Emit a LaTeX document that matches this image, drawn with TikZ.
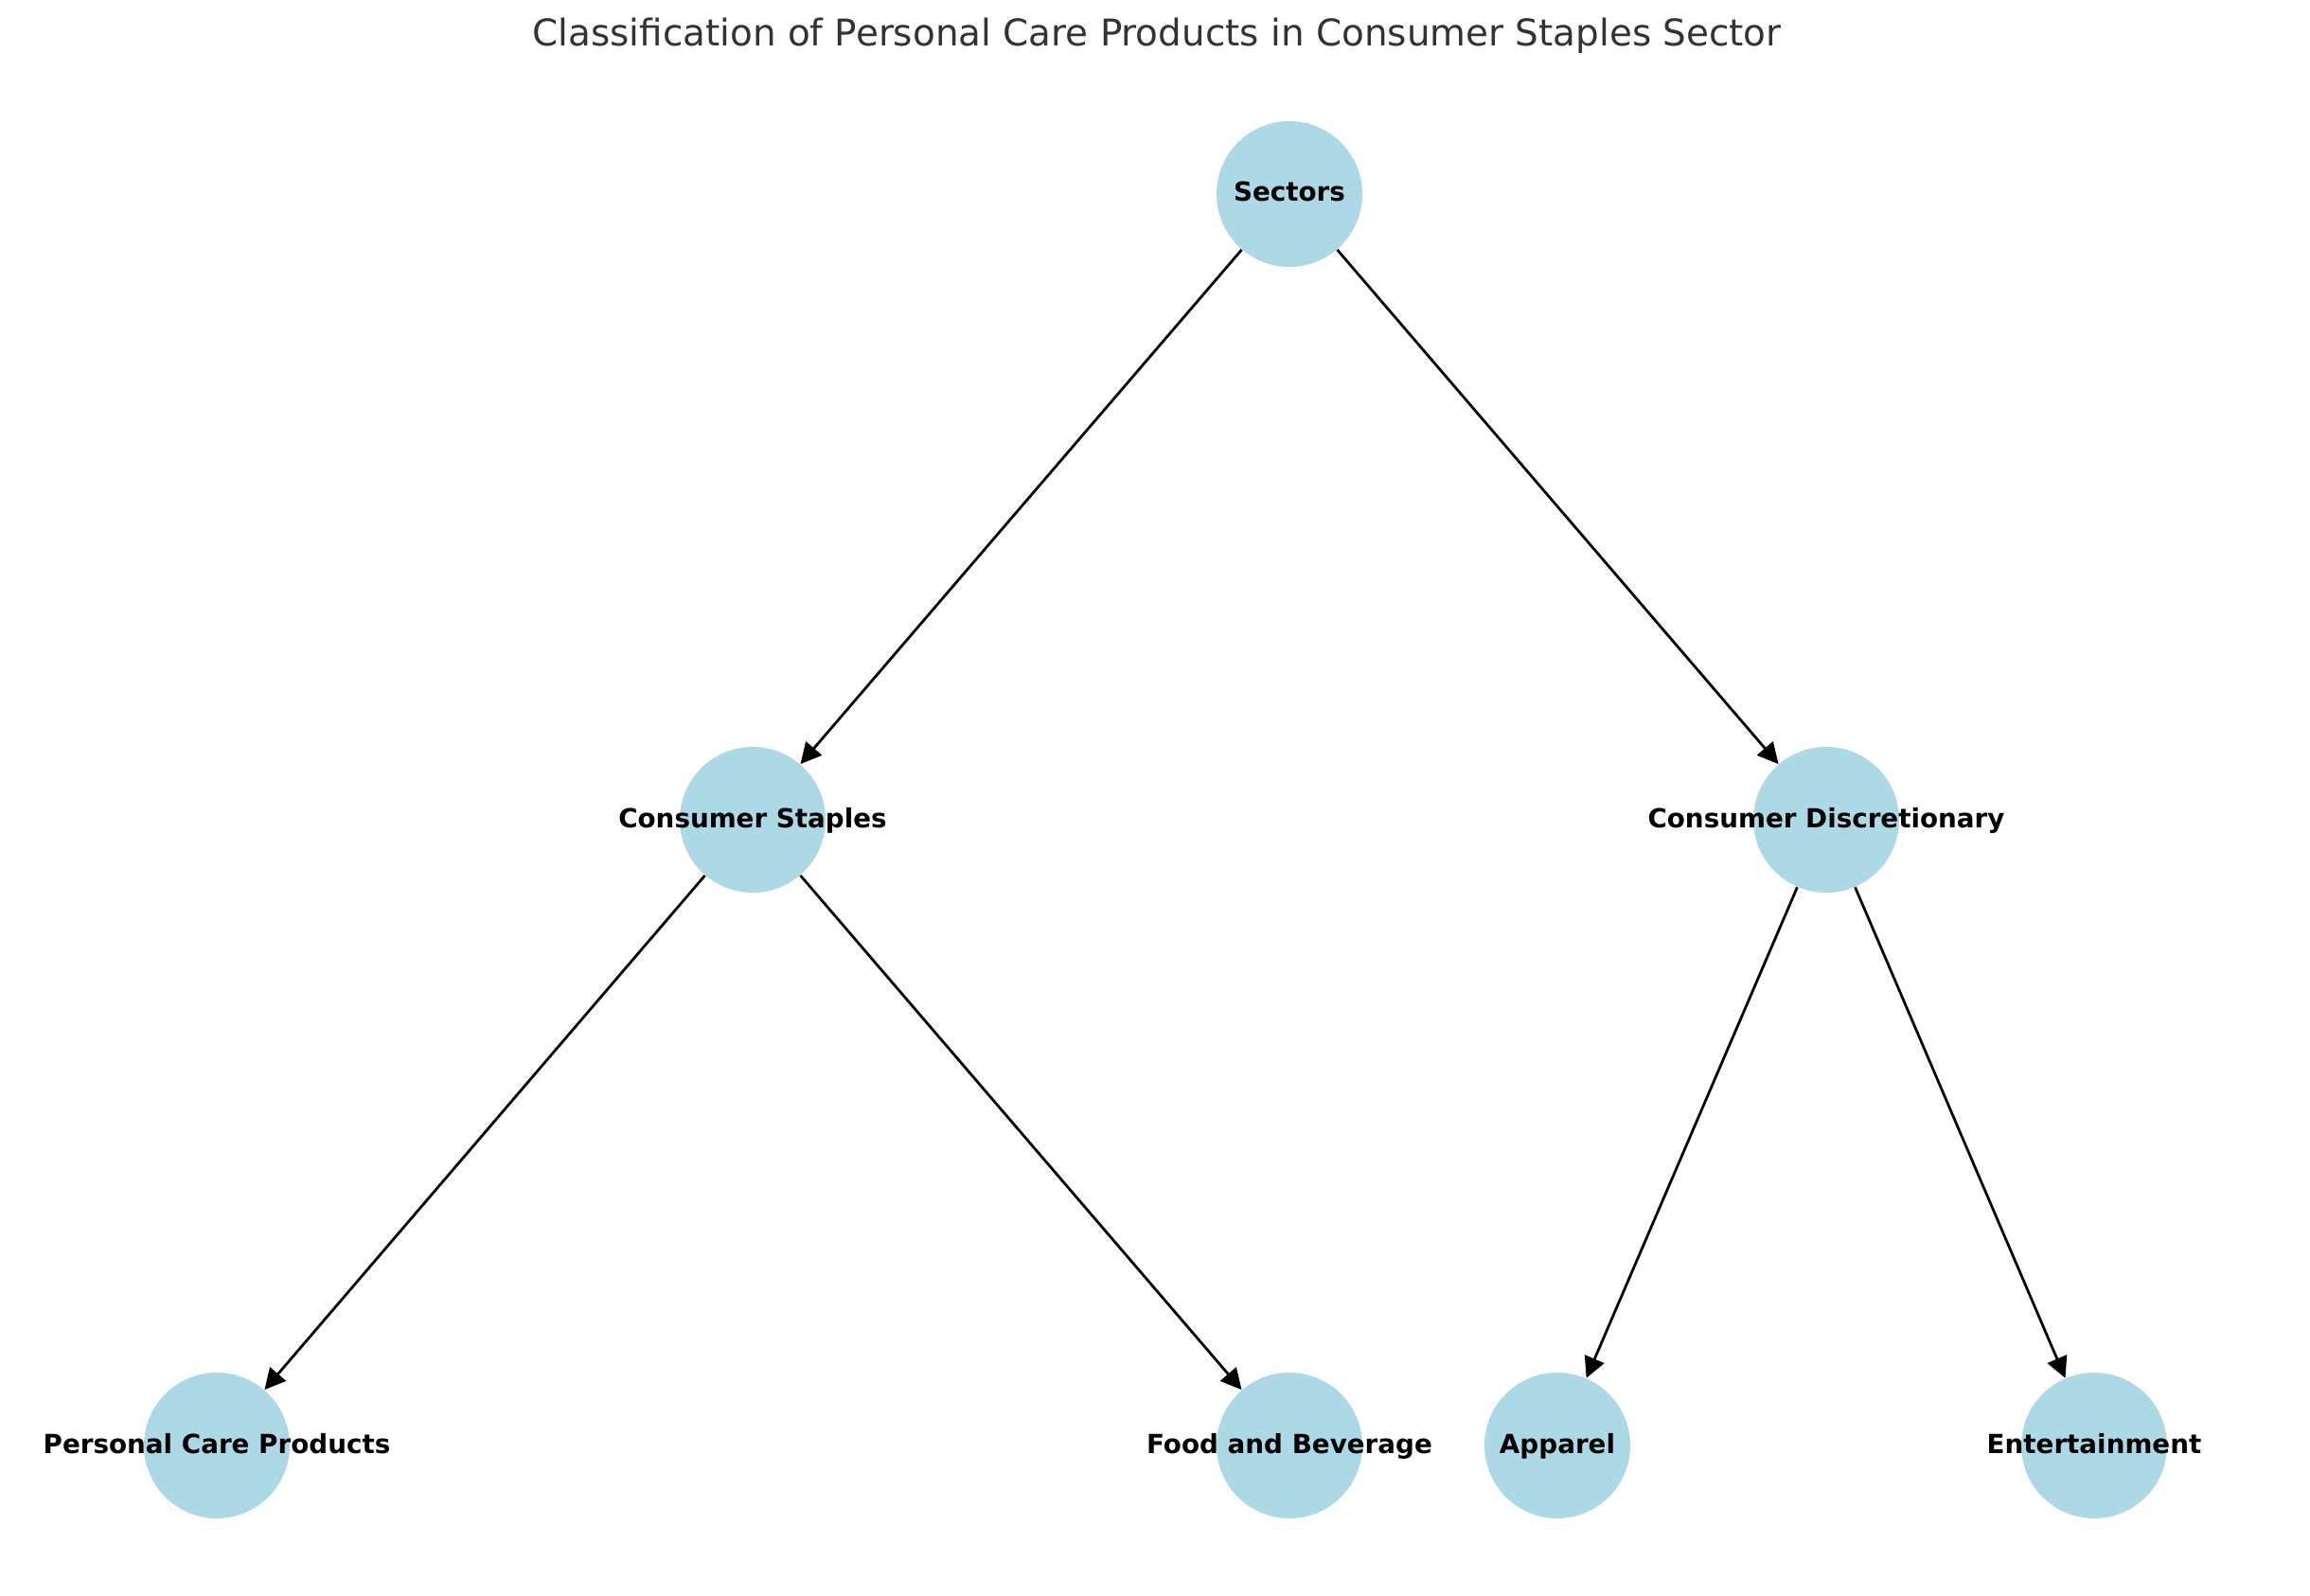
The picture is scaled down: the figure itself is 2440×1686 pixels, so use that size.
\documentclass[tikz,border=0pt]{standalone}
\usepackage{fontspec}
\setmainfont{DejaVu Sans}
\usetikzlibrary{arrows.meta}
\definecolor{nodeblue}{HTML}{ADD8E6}
\definecolor{titlegray}{HTML}{333333}
\begin{document}
\begin{tikzpicture}[x=0.36pt,y=-0.36pt,
  catnode/.style={circle, fill=nodeblue, draw=none, minimum size=55.44pt, inner sep=0pt},
  lbl/.style={font=\bfseries\fontsize{10}{12}\selectfont, text=black, anchor=base, inner sep=0pt},
  edge/.style={draw=black, line width=1pt, -{Triangle[length=7.9pt,width=7.9pt]}}]
\useasboundingbox (0,0) rectangle (2440,1686);
\node[font=\fontsize{14}{17}\selectfont, text=titlegray, anchor=base, inner sep=0pt] (title) at (1222,49) {Classification of Personal Care Products in Consumer Staples Sector};
% circles
\node[catnode] (sec) at (1362,205) {};
\node[catnode] (cs) at (795,866) {};
\node[catnode] (cd) at (1929,866) {};
\node[catnode] (pcp) at (229,1527) {};
\node[catnode] (fb) at (1362,1527) {};
\node[catnode] (app) at (1645,1527) {};
\node[catnode] (ent) at (2212,1527) {};
% edges
\draw[edge] (sec) -- (cs);
\draw[edge] (sec) -- (cd);
\draw[edge] (cs) -- (pcp);
\draw[edge] (cs) -- (fb);
\draw[edge] (cd) -- (app);
\draw[edge] (cd) -- (ent);
% labels
\node[lbl] (secl) at (1362,213) {Sectors};
\node[lbl] (csl) at (795,874) {Consumer Staples};
\node[lbl] (cdl) at (1929,874) {Consumer Discretionary};
\node[lbl] (pcpl) at (229,1535) {Personal Care Products};
\node[lbl] (fbl) at (1362,1535) {Food and Beverage};
\node[lbl] (appl) at (1645,1535) {Apparel};
\node[lbl] (entl) at (2212,1535) {Entertainment};
\end{tikzpicture}
\end{document}
